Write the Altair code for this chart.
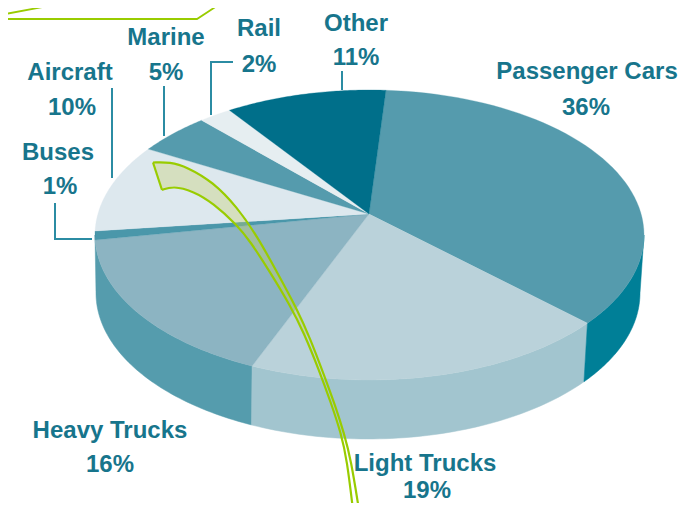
import math
import numpy as np
import pandas as pd
import altair as alt

# Categories and readings (all coordinates are read in picture pixels)
CATEGORIES = ["Passenger Cars", "Light Trucks", "Heavy Trucks", "Buses", "Aircraft", "Marine", "Rail", "Other"]
SHARES = [36, 19, 16, 1, 10, 5, 2, 11]
TOP_COLORS = ["#559BAD", "#BAD2DA", "#8CB4C2", "#4A97AA", "#DDE8EE", "#559BAD", "#E6EEF1", "#006F8A"]
# rim points where each slice ends (start of first = end of last)
RIM_END_X = [587, 253, 95, 95, 148, 201, 228, 386]
RIM_END_Y = [323, 365, 240, 231, 149, 120, 109, 90]
APEX = (369, 214)
TOP_ELL = (369.5, 235, 274.5, 145)
BOT_ELL = (368, 293, 272, 146)

SIDE_NAMES = ["Heavy Trucks", "Light Trucks", "Passenger Cars"]
SIDE_COLORS = ["#559CAD", "#A2C5CF", "#007F97"]

LABEL_TEXT = ["Marine", "5%", "Aircraft", "10%", "Buses", "1%", "Rail", "2%", "Other", "11%",
              "Passenger Cars", "36%", "Heavy Trucks", "16%", "Light Trucks", "19%"]
LABEL_X = [166, 166, 70, 72, 58, 60, 259, 259, 356, 356, 587, 586, 110, 110, 425, 427]
LABEL_Y = [45, 80, 80, 115, 160, 194, 36, 72, 31, 65, 79, 115, 438, 472, 471, 498]

LEADERS = [
    [(112, 88), (112, 178)],
    [(164, 86), (164, 136)],
    [(233, 62), (211, 62), (211, 115)],
    [(55, 203), (55, 239), (92, 239)],
    [(342, 71), (342, 90)],
]
TOP_GREEN = [
    [(0, 15), (80, 0)],
    [(0, 19), (197, 19), (226, 0)],
]
RIBBON_UPPER = [(153, 162.5), (170, 162), (187, 167), (213, 182), (237, 207), (257, 236), (277, 272),
                (297, 309), (310, 338), (324, 375), (335, 405), (344, 433), (351, 460), (359, 510)]
RIBBON_LOWER = [(162, 190), (173, 186), (193, 191), (213, 203), (237, 225), (250, 241), (270, 272),
                (290, 305), (304, 333), (319, 370), (331, 403), (341, 433), (347, 460), (353, 510)]
GREEN = "#99CC00"
TEXT_COLOR = "#17758C"
LEADER_COLOR = "#2B8CA3"

WIDTH, HEIGHT = 681, 495
xs = alt.Scale(domain=[8, 8 + WIDTH], range=[0, WIDTH])
ys = alt.Scale(domain=[8, 8 + HEIGHT], range=[0, HEIGHT])
X = alt.X("x:Q", scale=xs, axis=None)
Y = alt.Y("y:Q", scale=ys, axis=None)


def ang(x, y):
    return math.atan2((y - TOP_ELL[1]) / TOP_ELL[3], (x - TOP_ELL[0]) / TOP_ELL[2])


def arc(ell, a0, a1, n=60):
    t = np.linspace(a0, a1, n)
    return list(zip(ell[0] + ell[2] * np.cos(t), ell[1] + ell[3] * np.sin(t)))


def path(points, **mark):
    df = pd.DataFrame(points, columns=["x", "y"])
    df["i"] = range(len(df))
    return alt.Chart(df).mark_line(clip=True, **mark).encode(x=X, y=Y, order="i:Q")


angles = []
prev = ang(RIM_END_X[-1], RIM_END_Y[-1])
for xe, ye in zip(RIM_END_X, RIM_END_Y):
    e = ang(xe, ye)
    while e < prev:
        e += 2 * math.pi
    angles.append((prev, e))
    prev = e

layers = []

# side wall: Heavy (from left edge), Light, Passenger (to right edge)
side_spans = [(angles[1][1], math.pi), angles[1], (0.0, angles[0][1])]
for (a0, a1), col in zip(side_spans, SIDE_COLORS):
    poly = arc(TOP_ELL, a0, a1) + arc(BOT_ELL, a1, a0)
    poly.append(poly[0])
    layers.append(path(poly, fill=col, stroke=col, strokeWidth=0.5))

# top slices
for (a0, a1), col in zip(angles, TOP_COLORS):
    poly = [APEX] + arc(TOP_ELL, a0, a1) + [APEX]
    layers.append(path(poly, fill=col, stroke=col, strokeWidth=0.3))

# leaders
for seg in LEADERS:
    layers.append(path(seg, stroke=LEADER_COLOR, strokeWidth=2))

# green ribbon
fill_poly = RIBBON_UPPER[:9] + RIBBON_LOWER[:9][::-1] + [RIBBON_UPPER[0]]
layers.append(path(fill_poly, fill="#C6CE68", fillOpacity=0.35, strokeWidth=0))
layers.append(path(RIBBON_UPPER, stroke=GREEN, strokeWidth=2.2, interpolate="basis"))
layers.append(path(RIBBON_LOWER, stroke=GREEN, strokeWidth=2.2, interpolate="basis"))
layers.append(path([RIBBON_UPPER[0], RIBBON_LOWER[0]], stroke=GREEN, strokeWidth=2.2))
for seg in TOP_GREEN:
    layers.append(path(seg, stroke=GREEN, strokeWidth=1.8))

labels = pd.DataFrame({"x": LABEL_X, "y": LABEL_Y, "t": LABEL_TEXT})
layers.append(
    alt.Chart(labels)
    .mark_text(font="Liberation Sans", fontWeight="bold", fontSize=24, color=TEXT_COLOR, align="center", baseline="alphabetic")
    .encode(x=X, y=Y, text="t:N")
)

chart = (
    alt.layer(*layers)
    .properties(width=WIDTH, height=HEIGHT, padding=0, autosize=alt.AutoSizeParams(type="none"), background="white")
    .configure_view(stroke=None)
)
chart.save("out.html", embed_options={"renderer": "svg", "actions": False})
